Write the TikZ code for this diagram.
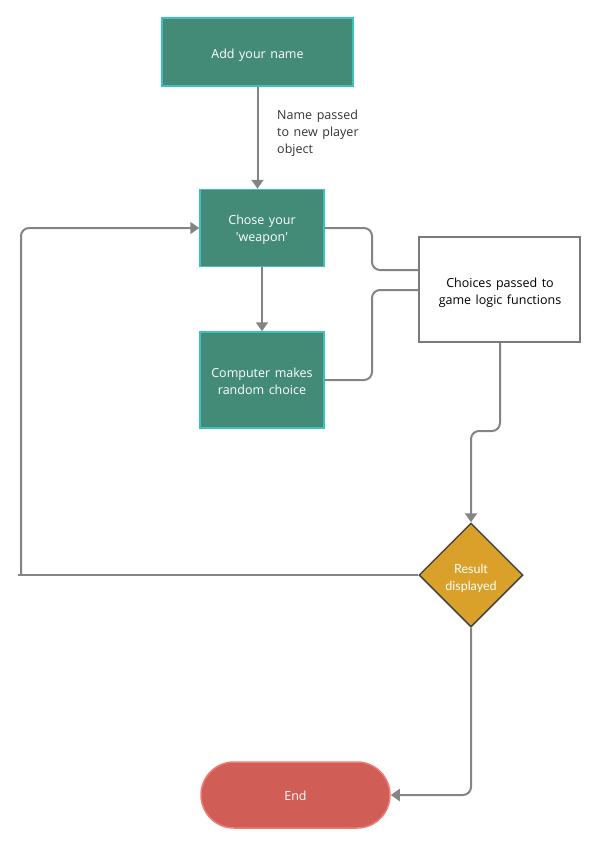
\documentclass[tikz,border=0pt]{standalone}
\usepackage{fontspec}
\setmainfont{Open Sans}[WordSpace={1.4}]
\newfontfamily\latofont{Lato}
\usetikzlibrary{shapes.geometric,shapes.misc,arrows.meta}
\definecolor{boxgreen}{HTML}{438B77}
\definecolor{boxedge}{HTML}{3CC0C0}
\definecolor{linegray}{HTML}{848484}
\definecolor{diafill}{HTML}{D9A12A}
\definecolor{diaedge}{HTML}{454545}
\definecolor{endfill}{HTML}{D05D56}
\definecolor{endedge}{HTML}{F27B78}
\definecolor{boxgray}{HTML}{7A7A7A}
\tikzset{
  greenbox/.style={draw=boxedge, line width=1.5pt, fill=boxgreen, inner sep=0pt},
  wtext/.style={text=white, align=center, font=\fontsize{12.5}{17}\selectfont, inner sep=0pt},
  conn/.style={draw=linegray, line width=2pt, rounded corners=8pt},
  arr/.style={conn, -{Triangle[width=12pt,length=9pt]}},
}
\begin{document}
\begin{tikzpicture}[x=1pt,y=-1pt]
\useasboundingbox (0,0) rectangle (600,847);
\node[greenbox, minimum width=191pt, minimum height=68pt] (a) at (257.5,52) {};
\node[wtext] (at) at (257.5,55) {Add your name};
\node[greenbox, minimum width=124pt, minimum height=77pt] (b) at (262,228) {};
\node[wtext] (bt) at (262,230) {Chose your\\\textquotesingle weapon\textquotesingle};
\node[greenbox, minimum width=124pt, minimum height=96pt] (c) at (262,380) {};
\node[wtext] (ct) at (262,381.5) {Computer makes\\random choice};
\node[draw=boxgray, line width=1.5pt, fill=white, minimum width=161pt, minimum height=105pt, inner sep=0pt] (d) at (499.5,289.5) {};
\node[align=center, font=\fontsize{12.5}{17}\selectfont, inner sep=0pt] (dt) at (500,293) {Choices passed to\\game logic functions};
\node[diamond, draw=diaedge, line width=1.5pt, fill=diafill, minimum width=104pt, minimum height=104pt, inner sep=0pt, aspect=1] (e) at (471,575) {};
\node[wtext, font=\latofont\fontsize{12.5}{17}\selectfont] (et) at (471,578) {Result\\displayed};
\node[rounded rectangle, draw=endedge, line width=1.5pt, fill=endfill, minimum width=189pt, minimum height=66pt, inner sep=0pt] (f) at (295.5,795) {};
\node[wtext] (ft) at (295.5,796) {End};
\node[anchor=north west, align=left, font=\fontsize{12.5}{17}\selectfont, text=black!80, inner sep=0pt] (lbl) at (277,110) {Name passed\\to new player\\object};
\coordinate (l0) at (18,575);
\coordinate (l1) at (21,575);
\coordinate (l2) at (21,228);
\draw[arr] (a.south) -- (a.south |- b.north);
\draw[arr] (c.north |- b.south) -- (c.north);
\draw[conn] (b.east) -- (372,228) -- (372,270) -- (d.west |- 0,270);
\draw[conn] (c.east) -- (372,380) -- (372,290) -- (d.west |- 0,290);
\draw[arr] (d.south -| 500,0) -- (500,431) -- (471,431) -- (e.north);
\draw[conn] (e.west) -- (l0);
\draw[arr] (l1) -- (l2) -- (b.west);
\draw[arr] (e.south) -- (471,795) -- (f.east);
\end{tikzpicture}
\end{document}
